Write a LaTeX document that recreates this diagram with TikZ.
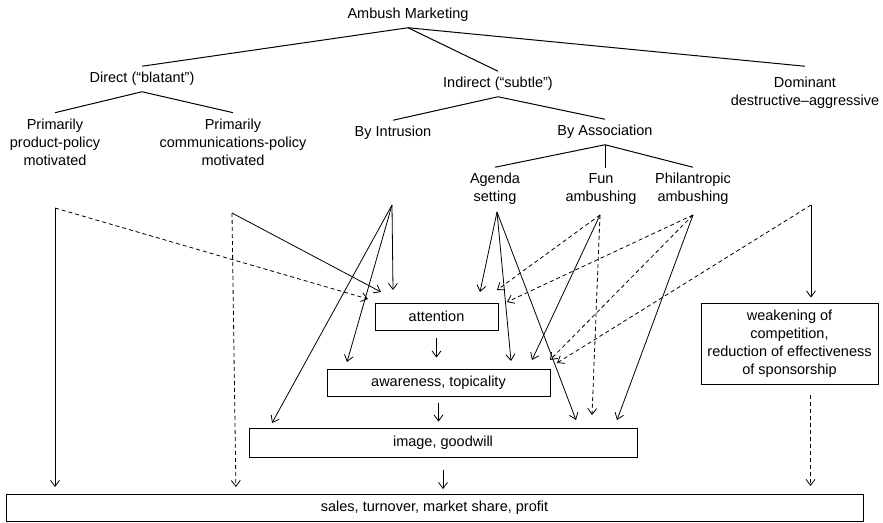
\documentclass[tikz,border=0pt]{standalone}
\usepackage{fontspec}
\setmainfont{Liberation Sans}
\usetikzlibrary{arrows.meta}

\begin{document}
\begin{tikzpicture}[x=1pt,y=-1pt]
\tikzset{lbl/.style={align=center,inner sep=4pt,outer sep=2pt,font=\fontsize{14.5}{18}\selectfont},
tree/.style={line width=1pt},
outbox/.style={draw,line width=0.9pt,align=center,inner sep=2pt,font=\fontsize{14.5}{18}\selectfont},
arr/.style={line width=0.8pt,-{Straight Barb[length=6pt,width=9pt]}},
darr/.style={arr,dash pattern=on 4pt off 3pt}}
\useasboundingbox (0,0) rectangle (883,522);
\node[lbl](am) at (408,15){Ambush Marketing};
\node[lbl](direct) at (142,79){Direct (“blatant”)};
\node[lbl](indirect) at (498,84){Indirect (“subtle”)};
\node[lbl](dominant) at (805,93){Dominant\\destructive–aggressive};
\draw[tree](am.south) -- (direct.north);
\draw[tree](am.south) -- (indirect.north);
\draw[tree](am.south) -- ([yshift=5pt]dominant.north);
\node[lbl](prod) at (55,142){Primarily\\product-policy\\motivated};
\node[lbl](comm) at (233,142){Primarily\\communications-policy\\motivated};
\draw[tree](direct.south) -- (prod.north);
\draw[tree](direct.south) -- (comm.north);
\node[lbl](intr) at (393,133){By Intrusion};
\node[lbl](assoc) at (605,132){By Association};
\draw[tree](indirect.south) -- (intr.north);
\draw[tree](indirect.south) -- (assoc.north);
\node[lbl](agenda) at (495,189){Agenda\\setting};
\node[lbl](fun) at (601,189){Fun\\ambushing};
\node[lbl](phil) at (693,189){Philantropic\\ambushing};
\draw[tree](assoc.south) -- (agenda.north);
\draw[tree](assoc.south) -- (assoc.south |- fun.north);
\draw[tree](assoc.south) -- (phil.north);
\node[outbox,minimum width=123,minimum height=27](attn) at (436.5,316.5){attention};
\node[outbox,minimum width=223,minimum height=27](aware) at (438.5,382.5){awareness, topicality};
\node[outbox,minimum width=388,minimum height=29](image) at (443,442.5){image, goodwill};
\node[outbox,minimum width=857,minimum height=27](sales) at (434.5,508){sales, turnover, market share, profit};
\node[outbox,minimum width=177,minimum height=81](weak) at (789.5,343.5){weakening of\\competition,\\reduction of effectiveness\\of sponsorship};
\coordinate (prodS) at (55,208);
\coordinate (commS) at (232,213);
\coordinate (intrS) at (392,205);
\coordinate (agenS) at (497,212);
\coordinate (funS) at (600,215);
\coordinate (philS) at (693,215);
\coordinate (domS) at (811,205);
\coordinate (a1) at (368,299);
\coordinate (a2) at (381,292);
\coordinate (a3) at (393,290);
\coordinate (a4) at (480,292);
\coordinate (a5) at (497,290);
\coordinate (a6) at (507,302);
\coordinate (w1) at (347,362);
\coordinate (w2) at (511,361);
\coordinate (w3) at (532,360);
\coordinate (w4) at (550,360);
\coordinate (w5) at (557,363);
\coordinate (i1) at (272,423);
\coordinate (i2) at (576,420);
\coordinate (i3) at (592,415);
\coordinate (i4) at (617,420);
\draw[arr,shorten >=7pt](prodS) -- (prodS |- sales.north);
\draw[darr](prodS) -- (a1);
\draw[arr](commS) -- (a2);
\draw[darr,shorten >=7pt](commS) -- ([xshift=4pt]commS |- sales.north);
\draw[arr](intrS) -- (a3);
\draw[arr](intrS) -- (w1);
\draw[arr](intrS) -- (i1);
\draw[arr](agenS) -- (a4);
\draw[arr](agenS) -- (w2);
\draw[arr](agenS) -- (i2);
\draw[darr](funS) -- (a5);
\draw[arr](funS) -- (w3);
\draw[darr](funS) -- (i3);
\draw[darr](philS) -- (a6);
\draw[darr](philS) -- (w4);
\draw[arr](philS) -- (i4);
\draw[darr](domS) -- (w5);
\draw[arr,shorten >=5pt](domS) -- (domS |- weak.north);
\draw[arr,shorten <=8pt,shorten >=11pt](attn.south) -- (attn.south |- aware.north);
\draw[arr,shorten <=7pt,shorten >=6pt](aware.south) -- (aware.south |- image.north);
\draw[arr,shorten <=13pt,shorten >=5pt](image.south) -- (image.south |- sales.north);
\draw[darr,shorten <=11pt,shorten >=8pt]([xshift=21pt]weak.south) -- ([xshift=21pt]weak.south |- sales.north);
\end{tikzpicture}
\end{document}
